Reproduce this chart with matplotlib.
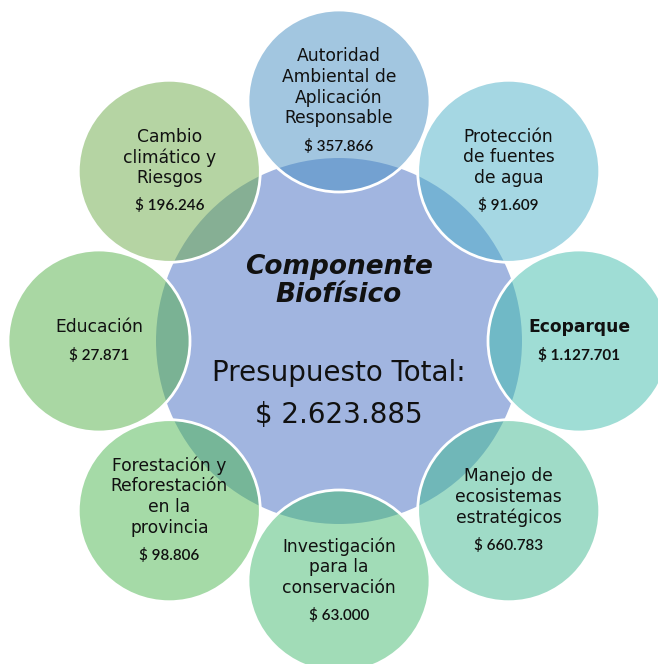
import numpy as np
import matplotlib
matplotlib.use("Agg")
import matplotlib.pyplot as plt
from matplotlib.patches import Circle

# ---- data ----
categories = [
    "Autoridad\nAmbiental de\nAplicación\nResponsable",
    "Protección\nde fuentes\nde agua",
    "Ecoparque",
    "Manejo de\necosistemas\nestratégicos",
    "Investigación\npara la\nconservación",
    "Forestación y\nReforestación\nen la\nprovincia",
    "Educación",
    "Cambio\nclimático y\nRiesgos",
]
amounts = ["$ 357.866", "$ 91.609", "$ 1.127.701", "$ 660.783",
           "$ 63.000", "$ 98.806", "$ 27.871", "$ 196.246"]
highlight = [False, False, True, False, False, False, False, False]
center_title = "Componente\nBiofísico"
center_label = "Presupuesto Total:"
center_amount = "$ 2.623.885"

colors = ["#478FC3", "#4DB1C9", "#41BDAD", "#41B991",
          "#45BB71", "#4DB751", "#55B149", "#6DAB49"]
center_color = "#A1B5E0"

W, H = 658, 664
fig = plt.figure(figsize=(W / 100, H / 100), dpi=100)
ax = fig.add_axes([0, 0, 1, 1])
ax.set_xlim(0, W)
ax.set_ylim(H, 0)
ax.axis("off")

cx, cy = 339, 341
R_orbit = 240
r_out = 91
R_center = 183

ax.add_patch(Circle((cx, cy), R_center, facecolor=center_color, edgecolor="none", zorder=1))

label_font = "DejaVu Sans"
amount_font = "Lato"
lh = 20.7
gap = 28

for i, (cat, amt, col, hl) in enumerate(zip(categories, amounts, colors, highlight)):
    ang = np.deg2rad(90 - 45 * i)
    x = cx + R_orbit * np.cos(ang)
    y = cy - R_orbit * np.sin(ang)
    ax.add_patch(Circle((x, y), r_out, facecolor=col, alpha=0.5, edgecolor="none", zorder=2))
    ax.add_patch(Circle((x, y), r_out, facecolor="none", edgecolor="white", lw=2, zorder=3))
    lines = cat.split("\n")
    total = (len(lines) - 1) * lh + gap
    y0 = y - total / 2
    for k, line in enumerate(lines):
        ax.text(x, y0 + k * lh, line, ha="center", va="center",
                fontsize=12.3, family=label_font,
                fontweight="bold" if hl else "normal", color="#111111", zorder=4)
    ax.text(x, y0 + total, amt, ha="center", va="center",
            fontsize=11, family=amount_font, fontweight="bold" if hl else "semibold",
            color="#111111", zorder=4)

ax.text(cx, 281, center_title, ha="center", va="center", fontsize=19,
        family="DejaVu Sans", fontweight="bold", style="italic",
        linespacing=1.15, color="#111111", zorder=5)
ax.text(cx, 373, center_label, ha="center", va="center", fontsize=20,
        family="DejaVu Sans", color="#111111", zorder=5)
ax.text(cx, 415, center_amount, ha="center", va="center", fontsize=20,
        family="DejaVu Sans", color="#111111", zorder=5)

fig.savefig("out.png", dpi=100, facecolor="white")
